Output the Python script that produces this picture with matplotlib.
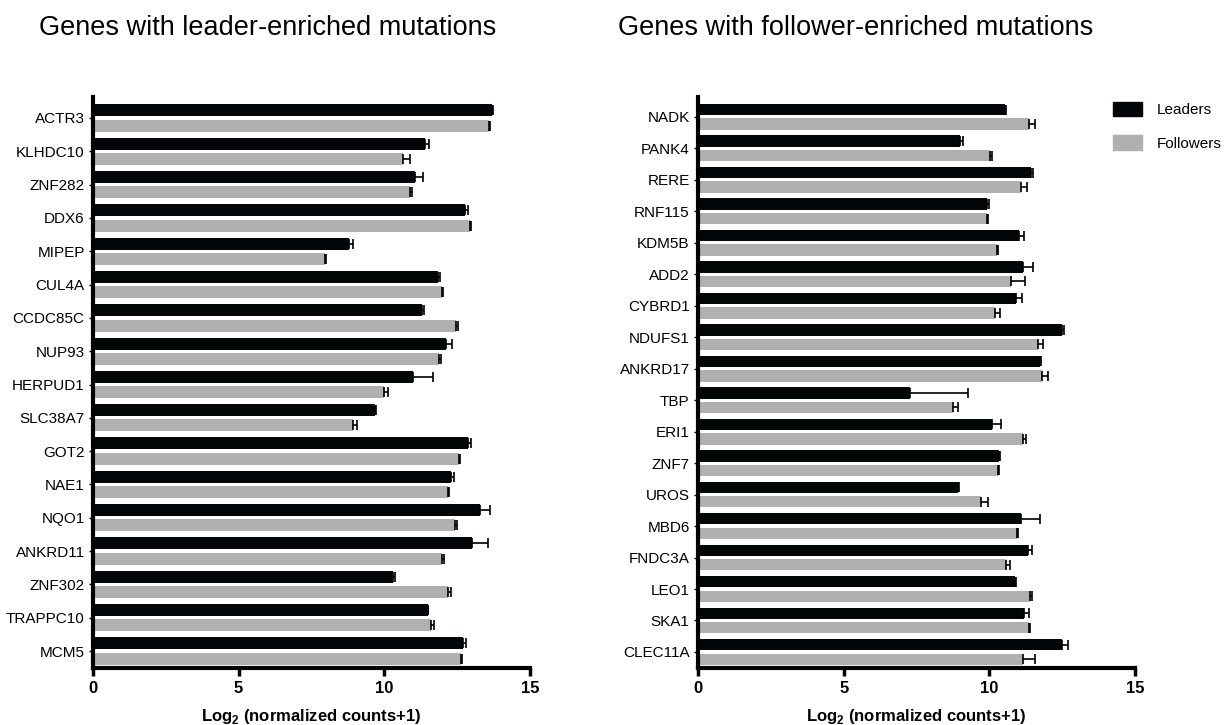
import matplotlib.pyplot as plt
import matplotlib.patches as mpatches
import numpy as np

plt.rcParams['font.family'] = ['Liberation Sans', 'DejaVu Sans']
plt.rcParams['mathtext.fontset'] = 'custom'
plt.rcParams['mathtext.rm'] = 'Liberation Sans'
plt.rcParams['mathtext.bf'] = 'Liberation Sans:bold'

# leader-enriched panel
leader_genes = ["ACTR3", "KLHDC10", "ZNF282", "DDX6", "MIPEP", "CUL4A", "CCDC85C", "NUP93",
                "HERPUD1", "SLC38A7", "GOT2", "NAE1", "NQO1", "ANKRD11", "ZNF302", "TRAPPC10", "MCM5"]
le_leaders = [13.69, 11.40, 11.06, 12.77, 8.79, 11.85, 11.28, 12.13,
              11.00, 9.67, 12.87, 12.29, 13.30, 13.02, 10.29, 11.49, 12.69]
le_leaders_err = [0.04, 0.12, 0.26, 0.09, 0.12, 0.07, 0.09, 0.18,
                  0.66, 0.05, 0.09, 0.09, 0.32, 0.53, 0.07, 0.02, 0.10]
le_followers = [13.59, 10.65, 10.87, 12.95, 7.96, 11.97, 12.46, 11.86,
                9.99, 8.94, 12.56, 12.17, 12.42, 11.97, 12.18, 11.61, 12.62]
le_followers_err = [0.04, 0.22, 0.07, 0.03, 0.03, 0.05, 0.06, 0.07,
                    0.15, 0.12, 0.05, 0.05, 0.09, 0.07, 0.10, 0.09, 0.05]

# follower-enriched panel
follower_genes = ["NADK", "PANK4", "RERE", "RNF115", "KDM5B", "ADD2", "CYBRD1", "NDUFS1",
                  "ANKRD17", "TBP", "ERI1", "ZNF7", "UROS", "MBD6", "FNDC3A", "LEO1", "SKA1", "CLEC11A"]
fe_leaders = [10.54, 9.00, 11.43, 9.91, 11.03, 11.16, 10.93, 12.51,
              11.74, 7.27, 10.08, 10.34, 8.93, 11.09, 11.34, 10.88, 11.19, 12.51]
fe_leaders_err = [0.04, 0.08, 0.08, 0.07, 0.16, 0.34, 0.19, 0.05,
                  0.04, 2.00, 0.32, 0.03, 0.02, 0.64, 0.11, 0.03, 0.18, 0.20]
fe_followers = [11.36, 10.03, 11.09, 9.93, 10.27, 10.74, 10.20, 11.68,
                11.80, 8.76, 11.16, 10.30, 9.72, 10.95, 10.57, 11.41, 11.36, 11.16]
fe_followers_err = [0.20, 0.05, 0.20, 0.03, 0.03, 0.49, 0.18, 0.15,
                    0.20, 0.16, 0.09, 0.02, 0.23, 0.04, 0.14, 0.07, 0.03, 0.41]

BLACK = "#030606"
GREY = "#b0b0b0"


def draw_panel(ax, genes, lead, lead_err, foll, foll_err):
    y = np.arange(len(genes))
    h = 0.36
    err_kw = dict(ecolor="black", elinewidth=1.2, capsize=3.5, capthick=1.2)
    ax.barh(y - 0.23, lead, h, color=BLACK,
            xerr=[np.zeros(len(lead)), lead_err], error_kw=err_kw)
    ax.barh(y + 0.23, foll, h, color=GREY,
            xerr=[np.zeros(len(foll)), foll_err], error_kw=err_kw)
    ax.set_yticks(y, genes, fontsize=11)
    ax.set_ylim(len(genes) - 0.49, -0.63)
    ax.set_xlim(0, 15)
    ax.set_xticks([0, 5, 10, 15])
    for lab in ax.get_xticklabels():
        lab.set_fontweight("bold")
        lab.set_fontsize(12)
    ax.set_xlabel(r"Log$_\mathbf{2}$ (normalized counts+1)", fontsize=12,
                  fontweight="bold", labelpad=8)
    for s in ("top", "right"):
        ax.spines[s].set_visible(False)
    for s in ("left", "bottom"):
        ax.spines[s].set_linewidth(3)
    ax.tick_params(axis="x", width=2.5, length=6)
    ax.tick_params(axis="y", width=1, length=3, pad=3)


fig = plt.figure(figsize=(12.28, 7.25), dpi=100)
ax1 = fig.add_axes([0.0757, 0.0786, 0.3559, 0.7876])
ax2 = fig.add_axes([0.5684, 0.0786, 0.3559, 0.7876])

draw_panel(ax1, leader_genes, le_leaders, le_leaders_err, le_followers, le_followers_err)
draw_panel(ax2, follower_genes, fe_leaders, fe_leaders_err, fe_followers, fe_followers_err)

fig.text(0.032, 0.962, "Genes with leader-enriched mutations", fontsize=19.5, va="center")
fig.text(0.503, 0.962, "Genes with follower-enriched mutations", fontsize=19.5, va="center")

handles = [mpatches.Patch(color=BLACK, label="Leaders"),
           mpatches.Patch(color=GREY, label="Followers")]
fig.legend(handles=handles, loc="upper left", bbox_to_anchor=(0.906, 0.86),
           frameon=False, fontsize=11, handlelength=1.9, handleheight=1.1,
           labelspacing=1.2, handletextpad=1.0, borderaxespad=0, borderpad=0)

fig.savefig("out.png", dpi=100)
